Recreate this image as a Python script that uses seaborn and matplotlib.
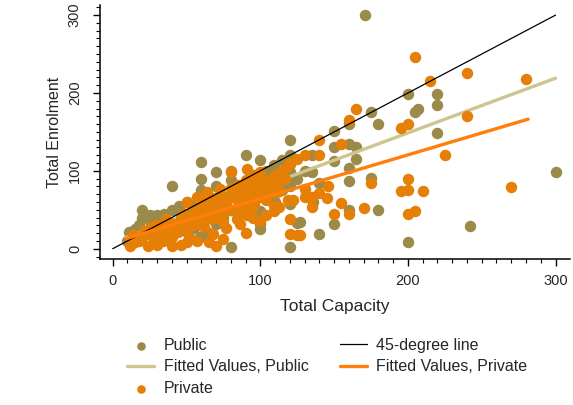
import matplotlib
matplotlib.use("Agg")
import matplotlib.pyplot as plt
from matplotlib.ticker import MultipleLocator
import seaborn as sns
import pandas as pd

# ---------------- data ----------------
public_x = [171, 200, 220, 220, 207, 205, 175, 180, 160, 150, 220, 160, 150, 165, 135, 150, 165, 135,
            160, 160, 175, 140, 300, 136, 160, 180, 150, 140, 242, 200, 127,
            120, 90, 100, 60, 70, 60, 109, 115, 120, 120, 120, 109, 104, 40, 80, 70, 90, 20, 20, 25, 30,
            40, 46, 100, 100, 100, 100, 120, 125, 120, 80, 11, 80, 66, 55, 50, 36, 70, 59, 86, 79, 109,
            15, 18, 25, 30, 35, 45, 50, 55, 60, 65, 75, 80, 85, 90, 95, 60, 50, 40, 30, 10, 20, 45, 65,
            75, 85, 95, 100, 105, 110, 115, 120, 125, 130, 120, 100, 80, 70, 45, 35, 25]
public_y = [300, 199, 199, 184, 179, 175, 175, 160, 160, 151, 149, 134, 130, 130, 120, 113, 115, 98,
            104, 87, 91, 84, 99, 60, 50, 50, 32, 19, 29, 8, 34,
            140, 120, 114, 111, 99, 89, 107, 114, 109, 98, 88, 98, 100, 80, 88, 80, 80, 50, 40, 43, 43,
            50, 47, 49, 40, 25, 32, 58, 33, 2, 2, 21, 50, 40, 27, 21, 17, 32, 15, 62, 66, 79,
            25, 30, 35, 30, 38, 35, 45, 55, 60, 50, 55, 70, 75, 85, 90, 75, 60, 30, 20, 10, 15, 25, 20,
            40, 45, 65, 70, 85, 60, 75, 80, 90, 100, 120, 95, 100, 65, 55, 45, 25]

private_x = [205, 240, 215, 280, 165, 160, 240, 195, 200, 140, 155, 140, 225, 200, 175, 146, 195, 200,
             210, 270, 130, 140, 135, 145, 130, 155, 170, 135, 150, 160, 205, 200, 127,
             80, 91, 96, 100, 109, 90, 80, 73, 100, 106, 111, 95, 57, 66, 75, 50, 59, 65, 55, 46, 36,
             30, 21, 14, 12, 24, 40, 46, 57, 65, 70, 84, 91, 95, 100, 109, 113, 119, 120, 120, 125,
             109, 104, 122, 36, 43, 32, 27, 52, 59, 66, 70, 77, 82, 73, 64, 48, 41, 50, 25, 18, 34,
             52, 68, 77, 86, 91, 95, 104,
             20, 28, 35, 45, 55, 60, 62, 70, 75, 80, 85, 88, 92, 98, 102, 110, 115, 118, 120, 125,
             130, 110, 85, 60, 40, 15, 30, 50, 75, 90,
             22, 26, 33, 38, 42, 47, 53, 58, 63, 68, 72, 78, 83, 87, 93, 97, 103, 108, 112, 117,
             44, 49, 56, 61, 67, 74, 79, 86, 94, 99, 105, 113, 38, 54, 62, 71, 88, 96]
private_y = [246, 226, 215, 218, 179, 165, 170, 155, 160, 140, 134, 120, 120, 89, 85, 81, 74, 76,
             74, 79, 77, 72, 66, 65, 66, 59, 52, 53, 45, 44, 49, 44, 17,
             98, 103, 95, 98, 93, 88, 78, 77, 78, 75, 73, 75, 66, 66, 62, 60, 58, 53, 49, 40, 38,
             30, 23, 17, 3, 4, 4, 5, 10, 8, 3, 38, 43, 40, 36, 49, 53, 62, 38, 19, 17,
             55, 62, 62, 27, 23, 19, 15, 36, 40, 47, 53, 58, 66, 70, 73, 45, 32, 27, 23, 10, 10,
             15, 19, 27, 32, 55, 53, 43,
             15, 25, 32, 30, 35, 45, 62, 45, 35, 50, 55, 65, 70, 85, 88, 95, 100, 105, 110, 115,
             120, 80, 82, 30, 15, 8, 5, 8, 12, 20,
             20, 28, 26, 34, 30, 36, 42, 48, 50, 58, 60, 64, 70, 72, 78, 82, 84, 88, 86, 90,
             22, 28, 33, 40, 38, 46, 50, 60, 62, 66, 70, 74, 20, 30, 28, 40, 48, 58]

line45_x = [0, 300]
line45_y = [0, 300]
fit_public_x = [9, 300]
fit_public_y = [14.5, 219]
fit_private_x = [9, 281.5]
fit_private_y = [13, 166.4]

legend_labels = ["Public", "Fitted Values, Public", "Private", "45-degree line", "Fitted Values, Private"]

# ---------------- style ----------------
sns.set_style("ticks")
plt.rcParams['font.family'] = ['Liberation Sans', 'DejaVu Sans']

c_pub = "#9c8a4a"
c_priv = "#e57f05"
c_fitpub = "#cdc58d"
c_fitpriv = "#ff7f0a"

fig = plt.figure(figsize=(5.73, 4.05), dpi=100)
ax = fig.add_axes([100 / 573, 1 - 259 / 405, 470 / 573, 254 / 405])

pub = pd.DataFrame({"x": public_x, "y": public_y})
priv = pd.DataFrame({"x": private_x, "y": private_y})
l45 = pd.DataFrame({"x": line45_x, "y": line45_y})
fpub = pd.DataFrame({"x": fit_public_x, "y": fit_public_y})
fpriv = pd.DataFrame({"x": fit_private_x, "y": fit_private_y})

sns.scatterplot(data=pub, x="x", y="y", ax=ax, color=c_pub, s=68, linewidth=0,
                label=legend_labels[0], zorder=2)
sns.lineplot(data=fpub, x="x", y="y", ax=ax, color=c_fitpub, linewidth=2.4,
             label=legend_labels[1], zorder=3)
sns.scatterplot(data=priv, x="x", y="y", ax=ax, color=c_priv, s=68, linewidth=0,
                label=legend_labels[2], zorder=4)
sns.lineplot(data=l45, x="x", y="y", ax=ax, color="black", linewidth=0.9,
             label=legend_labels[3], zorder=5)
sns.lineplot(data=fpriv, x="x", y="y", ax=ax, color=c_fitpriv, linewidth=2.4,
             label=legend_labels[4], zorder=6)

ax.set_xlim(-8.6, 309.8)
ax.set_ylim(-13.2, 313)
ax.xaxis.set_major_locator(MultipleLocator(100))
ax.xaxis.set_minor_locator(MultipleLocator(10))
ax.yaxis.set_major_locator(MultipleLocator(100))
ax.yaxis.set_minor_locator(MultipleLocator(10))
ax.tick_params(axis='both', which='major', length=5, width=1, color='black', labelsize=10.5)
ax.tick_params(axis='both', which='minor', length=3, width=0.8, color='black')
ax.tick_params(axis='x', which='major', pad=6)
ax.tick_params(axis='y', which='major', pad=8)
for lab in ax.get_yticklabels():
    lab.set_rotation(90)
    lab.set_va('center')
for sp in ['top', 'right']:
    ax.spines[sp].set_visible(False)
for sp in ['left', 'bottom']:
    ax.spines[sp].set_linewidth(1.1)
    ax.spines[sp].set_color('black')

ax.set_xlabel("Total Capacity", fontsize=12.5, labelpad=8)
ax.set_ylabel("Total Enrolment", fontsize=11.5, labelpad=4)

handles, labels = ax.get_legend_handles_labels()
ax.get_legend().remove()
fig.legend(handles, labels, ncol=2, frameon=False, fontsize=11.5,
           loc='upper left', bbox_to_anchor=(119 / 573, 1 - 330 / 405),
           handlelength=1.7, handletextpad=0.6, columnspacing=1.95,
           labelspacing=0.4, borderpad=0, markerscale=0.75)

fig.savefig("out.png", dpi=100, facecolor="white")
